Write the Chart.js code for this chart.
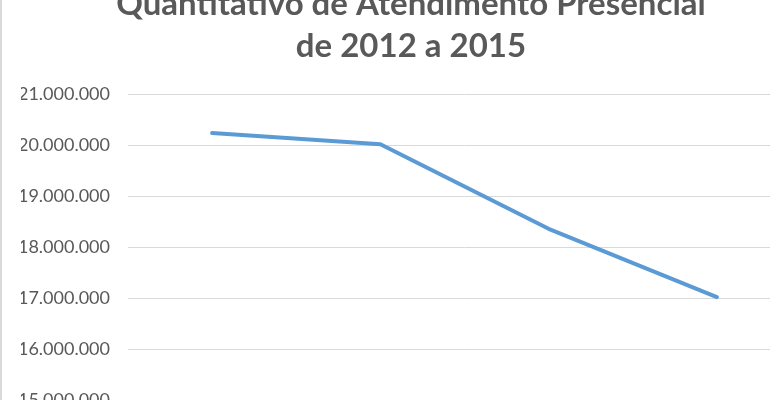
<!DOCTYPE html>
<html>
<head>
<meta charset="utf-8">
<script src="https://cdn.jsdelivr.net/npm/chart.js@4/dist/chart.umd.min.js"></script>
<style>
    html, body { margin: 0; padding: 0; background: #ffffff; }
    #quadro { position: relative; width: 770px; height: 400px; overflow: hidden; background: #ffffff; }
    #borda { position: absolute; left: 0; top: 0; width: 2px; height: 400px; background: #d9d9d9; }
    #grafico { position: absolute; left: 0; top: -30px; }
</style>
</head>
<body>
<div id="quadro">
    <canvas id="grafico" width="822" height="470"></canvas>
    <div id="borda"></div>
</div>
<script>
// Dados
const anos = ['2012', '2013', '2014', '2015'];
const atendimentos = [20240000, 20020000, 18360000, 17020000];
const titulo = ['Quantitativo de Atendimento Presencial', 'de 2012 a 2015'];

// Cores
const corLinha = '#5b9bd5';
const corTexto = '#595959';
const corGrade = '#d9d9d9';

const formataMilhar = (valor) => {
    return String(Math.round(valor)).replace(/\B(?=(\d{3})+(?!\d))/g, '.');
}

const config = {
    type: 'line',
    data: {
        labels: anos,
        datasets: [{
            label: 'Atendimentos',
            data: atendimentos,
            borderColor: corLinha,
            borderWidth: 4,
            borderCapStyle: 'round',
            borderJoinStyle: 'round',
            pointRadius: 0,
            tension: 0,
            fill: false
        }]
    },
    options: {
        responsive: false,
        animation: false,
        layout: {
            padding: { left: 21, right: 21, top: 0, bottom: 0 }
        },
        plugins: {
            legend: { display: false },
            tooltip: { enabled: false },
            title: {
                display: true,
                text: titulo,
                color: corTexto,
                font: { family: 'Lato', size: 33, weight: 'bold', lineHeight: 1.3 },
                padding: { top: 12.5, bottom: 26 }
            }
        },
        scales: {
            x: {
                offset: true,
                grid: { display: false },
                border: { display: true, color: corGrade },
                ticks: {
                    color: corTexto,
                    font: { family: 'Lato', size: 18 }
                },
                afterFit: (escala) => { escala.height = 40; }
            },
            y: {
                min: 15000000,
                max: 21000000,
                grid: { color: corGrade, lineWidth: 1, drawTicks: false },
                border: { display: false },
                ticks: {
                    stepSize: 1000000,
                    padding: 18,
                    color: corTexto,
                    font: { family: 'Lato', size: 18 },
                    callback: (valor) => formataMilhar(valor)
                },
                afterFit: (escala) => { escala.width = 107; }
            }
        }
    }
};

new Chart(document.getElementById('grafico'), config);
</script>
</body>
</html>
